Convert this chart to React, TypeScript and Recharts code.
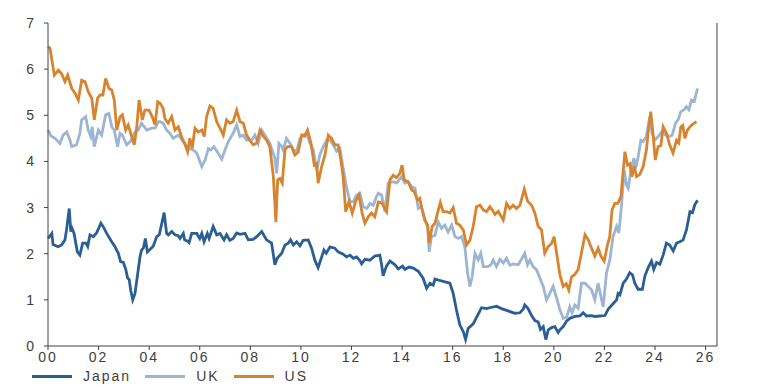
import React from 'react'
import { LineChart, Line, XAxis, YAxis, Legend } from 'recharts'

// 30-year government bond yields, %
const japanYears = [
  2000.0, 2000.15, 2000.2, 2000.4, 2000.54, 2000.67, 2000.73, 2000.84, 2000.9, 2000.95,
  2001.03, 2001.16, 2001.26, 2001.37, 2001.5, 2001.57, 2001.66, 2001.79, 2001.92, 2001.98,
  2002.09, 2002.19, 2002.32, 2002.52, 2002.65, 2002.78, 2002.87, 2002.98, 2003.08, 2003.15,
  2003.21, 2003.27, 2003.35, 2003.44, 2003.53, 2003.64, 2003.7, 2003.77, 2003.85, 2003.93,
  2004.03, 2004.16, 2004.3, 2004.4, 2004.5, 2004.59, 2004.69, 2004.76, 2004.89, 2005.02,
  2005.15, 2005.22, 2005.35, 2005.4, 2005.55, 2005.58, 2005.68, 2005.88, 2006.0, 2006.08,
  2006.17, 2006.3, 2006.37, 2006.53, 2006.67, 2006.8, 2006.96, 2007.06, 2007.19, 2007.32,
  2007.46, 2007.59, 2007.79, 2007.92, 2008.11, 2008.25, 2008.45, 2008.64, 2008.84, 2008.97,
  2009.06, 2009.24, 2009.37, 2009.5, 2009.59, 2009.7, 2009.83, 2009.96, 2010.09, 2010.29,
  2010.42, 2010.55, 2010.68, 2010.82, 2010.91, 2011.0, 2011.15, 2011.34, 2011.47, 2011.67,
  2011.8, 2011.94, 2012.07, 2012.2, 2012.33, 2012.4, 2012.53, 2012.73, 2012.92, 2013.12,
  2013.19, 2013.25, 2013.38, 2013.52, 2013.72, 2013.85, 2014.02, 2014.11, 2014.28, 2014.44,
  2014.64, 2014.83, 2014.97, 2015.1, 2015.23, 2015.3, 2015.43, 2015.62, 2015.89, 2016.02,
  2016.15, 2016.28, 2016.42, 2016.51, 2016.61, 2016.81, 2017.0, 2017.14, 2017.34, 2017.54,
  2017.73, 2017.93, 2018.19, 2018.46, 2018.66, 2018.79, 2018.85, 2018.98, 2019.12, 2019.25,
  2019.38, 2019.47, 2019.58, 2019.68, 2019.78, 2019.91, 2020.04, 2020.17, 2020.24, 2020.37,
  2020.5, 2020.63, 2020.83, 2021.03, 2021.16, 2021.29, 2021.49, 2021.62, 2021.82, 2022.02,
  2022.15, 2022.35, 2022.48, 2022.54, 2022.61, 2022.74, 2022.87, 2023.0, 2023.11, 2023.2,
  2023.33, 2023.5, 2023.6, 2023.73, 2023.86, 2023.95, 2024.06, 2024.19, 2024.32, 2024.45,
  2024.58, 2024.72, 2024.85, 2024.98, 2025.11, 2025.24, 2025.38, 2025.48, 2025.57, 2025.68,
]
const japanValues = [
  2.33, 2.44, 2.2, 2.15, 2.19, 2.3, 2.51, 2.98, 2.48, 2.55,
  2.44, 2.04, 1.97, 2.23, 2.23, 2.16, 2.41, 2.37, 2.45, 2.52,
  2.66, 2.58, 2.44, 2.26, 2.15, 2.01, 1.83, 1.81, 1.65, 1.47,
  1.44, 1.21, 1.0, 1.14, 1.5, 1.94, 2.08, 2.12, 2.33, 2.04,
  2.09, 2.16, 2.37, 2.41, 2.66, 2.89, 2.44, 2.41, 2.48, 2.41,
  2.39, 2.33, 2.44, 2.3, 2.26, 2.24, 2.44, 2.44, 2.33, 2.44,
  2.26, 2.44, 2.33, 2.59, 2.41, 2.44, 2.3, 2.41, 2.29, 2.33,
  2.45, 2.42, 2.44, 2.3, 2.31, 2.37, 2.48, 2.3, 2.23, 1.76,
  1.9, 2.01, 2.19, 2.23, 2.3, 2.19, 2.26, 2.17, 2.29, 2.3,
  2.12, 1.86, 1.7, 1.93, 2.08, 2.01, 2.15, 2.12, 2.04, 1.99,
  1.93, 1.97, 1.9, 1.93, 1.85, 1.78, 1.88, 1.86, 1.95, 1.97,
  1.76, 1.52, 1.73, 1.84, 1.76, 1.67, 1.73, 1.66, 1.71, 1.69,
  1.62, 1.47, 1.25, 1.36, 1.32, 1.45, 1.43, 1.4, 1.36, 1.14,
  0.78, 0.46, 0.31, 0.14, 0.38, 0.48, 0.68, 0.83, 0.81, 0.84,
  0.86, 0.81, 0.76, 0.71, 0.72, 0.8, 0.89, 0.81, 0.66, 0.55,
  0.52, 0.36, 0.42, 0.14, 0.35, 0.4, 0.42, 0.29, 0.35, 0.42,
  0.54, 0.6, 0.64, 0.65, 0.72, 0.65, 0.66, 0.64, 0.65, 0.66,
  0.8, 0.92, 1.0, 1.14, 1.11, 1.36, 1.45, 1.59, 1.54, 1.36,
  1.23, 1.23, 1.52, 1.7, 1.84, 1.66, 1.81, 1.77, 1.97, 2.23,
  2.19, 2.06, 2.23, 2.26, 2.3, 2.51, 2.91, 2.89, 3.06, 3.16,
]

const ukYears = [
  2000.01, 2000.12, 2000.28, 2000.47, 2000.6, 2000.74, 2000.87, 2000.94, 2001.13, 2001.26,
  2001.33, 2001.49, 2001.59, 2001.69, 2001.75, 2001.83, 2001.99, 2002.12, 2002.28, 2002.41,
  2002.52, 2002.62, 2002.75, 2002.85, 2002.94, 2003.11, 2003.28, 2003.44, 2003.57, 2003.7,
  2003.9, 2004.1, 2004.23, 2004.36, 2004.43, 2004.55, 2004.69, 2004.82, 2004.95, 2005.15,
  2005.35, 2005.55, 2005.74, 2005.88, 2006.08, 2006.21, 2006.34, 2006.44, 2006.56, 2006.73,
  2006.87, 2007.02, 2007.13, 2007.32, 2007.46, 2007.59, 2007.72, 2007.85, 2008.05, 2008.18,
  2008.31, 2008.45, 2008.58, 2008.77, 2008.97, 2009.04, 2009.13, 2009.24, 2009.3, 2009.43,
  2009.57, 2009.7, 2009.83, 2009.96, 2010.09, 2010.23, 2010.36, 2010.49, 2010.62, 2010.75,
  2010.88, 2011.02, 2011.15, 2011.28, 2011.41, 2011.54, 2011.67, 2011.81, 2011.94, 2012.07,
  2012.2, 2012.33, 2012.46, 2012.6, 2012.73, 2012.86, 2012.99, 2013.06, 2013.19, 2013.32,
  2013.45, 2013.65, 2013.78, 2013.98, 2014.11, 2014.24, 2014.38, 2014.51, 2014.64, 2014.77,
  2014.9, 2015.01, 2015.07, 2015.16, 2015.3, 2015.43, 2015.56, 2015.69, 2015.82, 2015.96,
  2016.09, 2016.22, 2016.35, 2016.48, 2016.59, 2016.68, 2016.77, 2016.88, 2017.01, 2017.11,
  2017.21, 2017.4, 2017.51, 2017.6, 2017.73, 2017.87, 2018.0, 2018.13, 2018.26, 2018.39,
  2018.59, 2018.72, 2018.85, 2018.96, 2019.05, 2019.18, 2019.32, 2019.45, 2019.58, 2019.71,
  2019.84, 2019.97, 2020.11, 2020.24, 2020.37, 2020.5, 2020.63, 2020.72, 2020.83, 2020.96,
  2021.09, 2021.23, 2021.36, 2021.49, 2021.62, 2021.75, 2021.86, 2021.95, 2022.08, 2022.21,
  2022.34, 2022.48, 2022.57, 2022.67, 2022.78, 2022.87, 2022.94, 2023.07, 2023.17, 2023.23,
  2023.33, 2023.44, 2023.53, 2023.66, 2023.79, 2023.88, 2023.99, 2024.12, 2024.26, 2024.41,
  2024.55, 2024.68, 2024.81, 2024.91, 2025.02, 2025.15, 2025.24, 2025.34, 2025.44, 2025.55,
  2025.68,
]
const ukValues = [
  4.68, 4.55, 4.5, 4.39, 4.57, 4.64, 4.46, 4.32, 4.36, 4.61,
  4.9, 4.97, 4.68, 4.54, 4.75, 4.32, 4.68, 4.57, 5.01, 5.04,
  4.75, 4.68, 4.32, 4.61, 4.57, 4.36, 4.45, 4.64, 4.68, 4.83,
  4.68, 4.72, 4.72, 4.86, 4.86, 4.83, 4.68, 4.61, 4.5, 4.57,
  4.43, 4.28, 4.25, 4.18, 3.89, 4.03, 4.28, 4.25, 4.32, 4.18,
  4.05, 4.28, 4.43, 4.61, 4.79, 4.54, 4.57, 4.46, 4.46, 4.57,
  4.39, 4.68, 4.57, 4.39, 4.07, 3.74, 4.39, 4.32, 4.25, 4.5,
  4.39, 4.25, 4.22, 4.5, 4.57, 4.61, 4.39, 4.25, 3.81, 4.14,
  4.32, 4.46, 4.46, 4.36, 4.22, 4.28, 3.85, 3.42, 3.13, 3.13,
  3.27, 3.31, 3.02, 2.98, 3.09, 3.05, 3.24, 3.31, 3.27, 2.91,
  3.53, 3.56, 3.53, 3.67, 3.53, 3.56, 3.45, 3.42, 2.98, 3.02,
  2.73, 2.58, 2.04, 2.37, 2.4, 2.69, 2.55, 2.62, 2.47, 2.62,
  2.37, 2.33, 2.37, 2.15, 1.58, 1.29, 1.5, 2.01, 1.87, 2.01,
  1.72, 1.72, 1.76, 1.86, 1.72, 1.88, 1.8, 1.9, 1.75, 1.78,
  1.76, 1.88, 2.01, 1.76, 1.86, 1.72, 1.65, 1.47, 1.29, 1.0,
  1.14, 1.29, 1.04, 0.78, 0.6, 0.62, 0.85, 0.72, 0.89, 0.82,
  1.36, 1.36, 1.29, 1.22, 1.0, 1.36, 1.07, 0.85, 1.58, 1.86,
  2.37, 2.59, 2.45, 3.02, 3.81, 3.49, 3.42, 3.89, 4.07, 3.85,
  4.09, 4.46, 4.43, 4.54, 4.97, 4.61, 4.46, 4.54, 4.64, 4.57,
  4.54, 4.57, 4.83, 4.9, 5.08, 5.12, 5.19, 5.12, 5.33, 5.3,
  5.58,
]

const usYears = [
  2000.01, 2000.08, 2000.25, 2000.41, 2000.54, 2000.67, 2000.78, 2000.94, 2001.07, 2001.2,
  2001.33, 2001.46, 2001.59, 2001.73, 2001.83, 2001.96, 2002.06, 2002.17, 2002.28, 2002.41,
  2002.52, 2002.62, 2002.72, 2002.85, 2002.94, 2003.07, 2003.17, 2003.31, 2003.41, 2003.51,
  2003.6, 2003.73, 2003.83, 2003.99, 2004.12, 2004.23, 2004.34, 2004.43, 2004.55, 2004.62,
  2004.75, 2004.89, 2005.02, 2005.15, 2005.28, 2005.42, 2005.52, 2005.61, 2005.7, 2005.81,
  2005.94, 2006.08, 2006.18, 2006.27, 2006.4, 2006.53, 2006.67, 2006.8, 2006.93, 2007.06,
  2007.19, 2007.32, 2007.46, 2007.59, 2007.72, 2007.85, 2007.98, 2008.11, 2008.25, 2008.38,
  2008.51, 2008.64, 2008.77, 2008.91, 2009.01, 2009.08, 2009.17, 2009.26, 2009.37, 2009.47,
  2009.63, 2009.76, 2009.89, 2010.03, 2010.15, 2010.26, 2010.4, 2010.53, 2010.62, 2010.68,
  2010.82, 2010.95, 2011.08, 2011.21, 2011.34, 2011.47, 2011.58, 2011.67, 2011.77, 2011.9,
  2012.03, 2012.16, 2012.29, 2012.42, 2012.53, 2012.66, 2012.79, 2012.92, 2013.06, 2013.2,
  2013.39, 2013.52, 2013.65, 2013.78, 2013.91, 2014.0, 2014.08, 2014.24, 2014.38, 2014.48,
  2014.61, 2014.7, 2014.77, 2014.9, 2015.01, 2015.07, 2015.19, 2015.3, 2015.4, 2015.51,
  2015.62, 2015.76, 2015.89, 2016.02, 2016.15, 2016.28, 2016.42, 2016.55, 2016.68, 2016.81,
  2016.94, 2017.08, 2017.21, 2017.34, 2017.47, 2017.6, 2017.67, 2017.8, 2018.0, 2018.13,
  2018.26, 2018.39, 2018.52, 2018.66, 2018.83, 2018.96, 2019.12, 2019.25, 2019.38, 2019.51,
  2019.64, 2019.77, 2019.91, 2020.01, 2020.11, 2020.24, 2020.37, 2020.49, 2020.59, 2020.7,
  2020.83, 2020.96, 2021.09, 2021.23, 2021.36, 2021.49, 2021.62, 2021.75, 2021.86, 2021.99,
  2022.12, 2022.21, 2022.3, 2022.41, 2022.53, 2022.65, 2022.81, 2022.91, 2023.0, 2023.09,
  2023.17, 2023.27, 2023.4, 2023.53, 2023.66, 2023.75, 2023.83, 2023.92, 2024.01, 2024.12,
  2024.23, 2024.32, 2024.45, 2024.58, 2024.71, 2024.85, 2024.94, 2025.02, 2025.1, 2025.18,
  2025.28, 2025.38, 2025.47, 2025.55, 2025.64,
]
const usValues = [
  6.49, 6.45, 5.87, 5.98, 5.9, 5.73, 5.87, 5.58, 5.48, 5.33,
  5.76, 5.73, 5.51, 5.37, 4.9, 5.37, 5.44, 5.44, 5.8, 5.58,
  5.55, 5.33, 4.68, 4.97, 5.01, 4.68, 4.79, 4.54, 4.36, 4.75,
  5.33, 4.9, 5.11, 5.11, 4.97, 4.8, 5.29, 5.26, 5.15, 4.93,
  4.83, 4.97, 4.68, 4.75, 4.54, 4.36, 4.21, 4.5, 4.28, 4.72,
  4.64, 4.68, 4.54, 4.97, 5.2, 5.15, 4.86, 4.72, 4.57, 4.9,
  4.83, 4.86, 5.11, 4.86, 4.83, 4.57, 4.46, 4.36, 4.4, 4.68,
  4.55, 4.46, 4.32, 3.67, 2.69, 3.6, 3.63, 3.53, 4.25, 4.32,
  4.32, 4.14, 4.2, 4.57, 4.55, 4.68, 4.39, 3.92, 3.95, 3.53,
  3.89, 4.14, 4.57, 4.5, 4.36, 4.36, 4.03, 3.67, 2.91, 3.13,
  2.88, 3.13, 3.27, 2.88, 2.66, 2.8, 2.88, 2.8, 3.12, 3.1,
  2.91, 3.6, 3.7, 3.65, 3.74, 3.92, 3.6, 3.56, 3.38, 3.35,
  3.16, 3.2, 3.0, 2.73, 2.62, 2.23, 2.59, 2.66, 2.88, 3.11,
  2.91, 2.91, 2.88, 3.0, 2.66, 2.62, 2.51, 2.19, 2.29, 2.59,
  3.02, 3.05, 2.95, 2.91, 3.02, 2.92, 2.85, 2.92, 2.73, 3.09,
  2.98, 3.05, 2.98, 3.05, 3.4, 3.14, 3.05, 2.88, 2.59, 2.52,
  2.01, 2.15, 2.22, 2.37, 2.01, 1.54, 1.29, 1.35, 1.21, 1.5,
  1.55, 1.66, 2.01, 2.41, 2.3, 2.12, 1.95, 2.12, 1.95, 1.84,
  2.19, 2.37, 2.95, 3.09, 3.09, 3.23, 4.21, 3.92, 3.95, 3.67,
  3.9, 3.67, 3.72, 3.89, 4.25, 4.75, 5.08, 4.61, 4.03, 4.32,
  4.34, 4.75, 4.61, 4.36, 4.18, 4.46, 4.4, 4.75, 4.78, 4.5,
  4.68, 4.75, 4.8, 4.83, 4.86,
]

const yearTicks = [2000, 2002, 2004, 2006, 2008, 2010, 2012, 2014, 2016, 2018, 2020, 2022, 2024, 2026]
const yieldTicks = [0, 1, 2, 3, 4, 5, 6, 7]

const series = [
  { name: 'Japan', color: '#2b5e95', years: japanYears, values: japanValues },
  { name: 'UK', color: '#9bb5d2', years: ukYears, values: ukValues },
  { name: 'US', color: '#d8832d', years: usYears, values: usValues },
]

const axisColor = '#404040'
const tickStyle = { fill: '#404040', fontSize: 14, fontFamily: '"Liberation Sans", Arial, sans-serif', letterSpacing: 2 }

const renderLegend = () => (
  <div style={{ display: 'flex', height: 18, alignItems: 'center', fontFamily: '"Liberation Sans", Arial, sans-serif', fontSize: 14, color: '#404040', letterSpacing: 2 }}>
    {series.map((s) => (
      <div key={s.name} style={{ display: 'flex', alignItems: 'center', marginRight: 14 }}>
        <div style={{ width: 40, height: 3, background: s.color, marginRight: 11 }} />
        <span>{s.name}</span>
      </div>
    ))}
  </div>
)

export default function App() {
  return (
    <LineChart width={760} height={379} margin={{ top: 15, right: 6, left: 0, bottom: 2 }}>
      <XAxis
        dataKey="x"
        type="number"
        domain={[2000, 2026.45]}
        ticks={yearTicks}
        tickFormatter={(v: number) => String(v % 100).padStart(2, '0')}
        tick={tickStyle}
        tickSize={4}
        height={21}
        stroke={axisColor}
        allowDuplicatedCategory={false}
      />
      <YAxis
        yAxisId="left"
        domain={[0, 7]}
        ticks={yieldTicks}
        tick={tickStyle}
        tickSize={4}
        tickMargin={8}
        width={40}
        stroke={axisColor}
      />
      <YAxis
        yAxisId="right"
        orientation="right"
        domain={[0, 7]}
        ticks={yieldTicks}
        tick={tickStyle}
        tickSize={4}
        tickMargin={8}
        width={45}
        stroke={axisColor}
      />
      <Legend content={renderLegend} verticalAlign="bottom" align="left" wrapperStyle={{ left: 24, bottom: 2, width: 'auto' }} />
      {series.map((s) => (
        <Line
          key={s.name}
          yAxisId="left"
          name={s.name}
          data={s.years.map((x, i) => ({ x, v: s.values[i] }))}
          dataKey="v"
          type="linear"
          stroke={s.color}
          strokeWidth={2.8}
          dot={false}
          activeDot={false}
          isAnimationActive={false}
        />
      ))}
    </LineChart>
  )
}
